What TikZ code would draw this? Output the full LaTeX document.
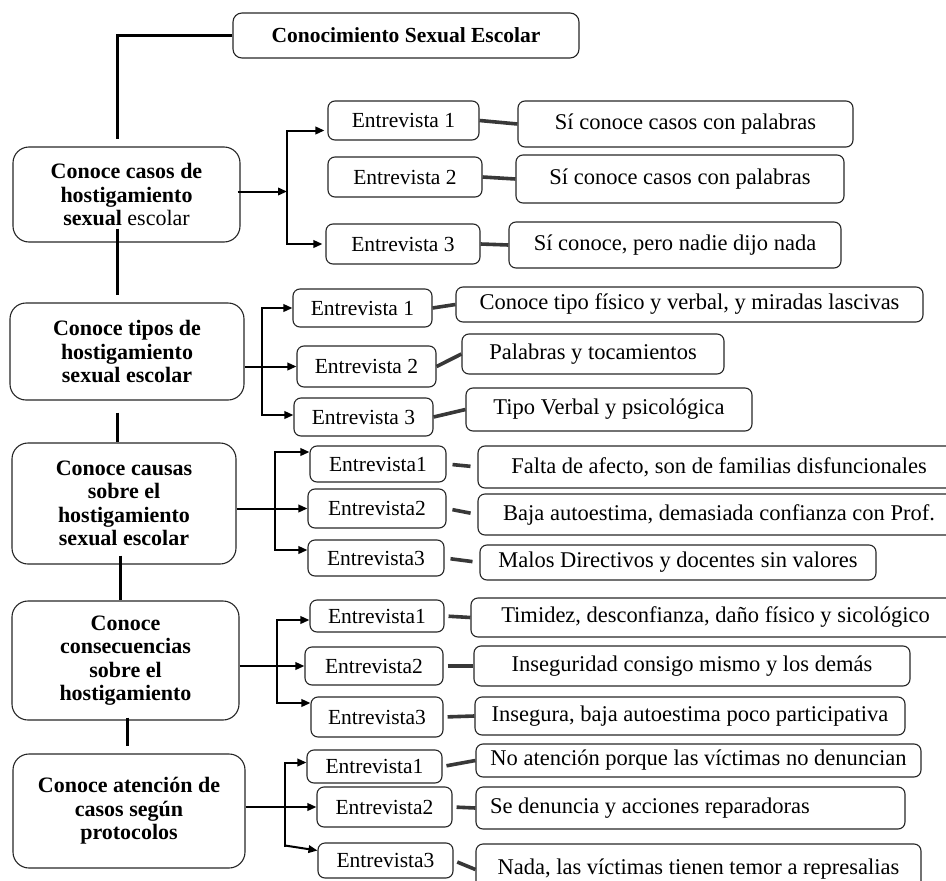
\documentclass[tikz,border=0pt]{standalone}
\usepackage{fontspec}
\setmainfont{Liberation Serif}
\usetikzlibrary{arrows.meta,calc}
\newcommand\pxbox[7]{%
  \node[#1, minimum width={(#4-#3)*1pt}, minimum height={(#6-#5)*1pt}] (#2) at ({(#3+#4)/2},{(#5+#6)/2}) {#7};}
\tikzset{
  box/.style={draw=black!85, line width=1.1pt, rounded corners=7pt, inner sep=0pt,
    align=center, font=\fontsize{21.5}{24}\selectfont},
  rbox/.style={box, font=\fontsize{22.5}{25}\selectfont},
  bigbox/.style={box, rounded corners=16pt, font=\bfseries\fontsize{22}{23.5}\selectfont},
  titlebox/.style={box, rounded corners=9pt, font=\bfseries\fontsize{21.5}{24}\selectfont},
  trunk/.style={line width=3pt, black},
  link/.style={line width=3.6pt, black!78},
  arr/.style={line width=2pt, black, -{Triangle[length=9pt,width=7.5pt]}}
}
\begin{document}
\begin{tikzpicture}[x=1pt,y=-1pt]
\useasboundingbox (0,0) rectangle (946,881);
\clip (0,0) rectangle (946,881);

% main boxes
\pxbox{titlebox}{top}{233}{579}{13}{58}{Conocimiento Sexual Escolar}
\pxbox{bigbox}{b1}{13}{240}{147}{242}{Conoce casos de\\hostigamiento\\sexual {\mdseries escolar}}
\pxbox{bigbox}{b2}{10}{244}{303}{400}{Conoce tipos de\\hostigamiento\\sexual escolar}
\pxbox{bigbox}{b3}{12}{236}{443}{564}{Conoce causas\\sobre el\\hostigamiento\\sexual escolar}
\pxbox{bigbox}{b4}{12}{239}{601}{720}{Conoce\\consecuencias\\sobre el\\hostigamiento}
\pxbox{bigbox}{b5}{13}{245}{754}{868}{Conoce atención de\\casos según\\protocolos}

% group 1
\pxbox{box}{e11}{328}{479}{101}{140}{Entrevista 1}
\pxbox{box}{e12}{328}{482}{157}{197}{Entrevista 2}
\pxbox{box}{e13}{326}{480}{224}{264}{Entrevista 3}
\pxbox{rbox}{r11}{518}{853}{101}{147}{Sí conoce casos con palabras}
\pxbox{rbox}{r12}{516}{844}{155}{203}{Sí conoce casos con palabras}
\pxbox{rbox}{r13}{509}{841}{222}{268}{Sí conoce, pero nadie dijo nada}

% group 2
\pxbox{box}{e21}{293}{432}{289}{327}{Entrevista 1}
\pxbox{box}{e22}{297}{436}{346}{387}{Entrevista 2}
\pxbox{box}{e23}{294}{433}{398}{436}{Entrevista 3}
\pxbox{rbox}{r21}{456}{923}{287}{322}{Conoce tipo físico y verbal, y miradas lascivas}
\pxbox{rbox}{r22}{462}{724}{334}{374}{Palabras y tocamientos}
\pxbox{rbox}{r23}{466}{752}{388}{431}{Tipo Verbal y psicológica}

% group 3
\pxbox{box}{e31}{310}{446}{446}{482}{Entrevista1}
\pxbox{box}{e32}{308}{446}{489}{528}{Entrevista2}
\pxbox{box}{e33}{308}{444}{540}{576}{Entrevista3}
\pxbox{rbox}{r31}{478}{960}{446}{488}{Falta de afecto, son de familias disfuncionales}
\pxbox{rbox}{r32}{478}{960}{494}{535}{Baja autoestima, demasiada confianza con Prof.}
\pxbox{rbox}{r33}{480}{876}{545}{580}{Malos Directivos y docentes sin valores}

% group 4
\pxbox{box}{e41}{310}{444}{600}{632}{Entrevista1}
\pxbox{box}{e42}{305}{443}{647}{685}{Entrevista2}
\pxbox{box}{e43}{311}{443}{697}{737}{Entrevista3}
\pxbox{rbox}{r41}{471}{960}{598}{637}{Timidez, desconfianza, daño físico y sicológico}
\pxbox{rbox}{r42}{474}{910}{646}{686}{Inseguridad consigo mismo y los demás}
\pxbox{rbox}{r43}{475}{905}{697}{735}{Insegura, baja autoestima poco participativa}

% group 5
\pxbox{box}{e51}{307}{442}{750}{783}{Entrevista1}
\pxbox{box}{e52}{317}{452}{787}{827}{Entrevista2}
\pxbox{box}{e53}{318}{453}{843}{878}{Entrevista3}
\pxbox{rbox}{r51}{476}{921}{744}{777}{No atención porque las víctimas no denuncian}
\pxbox{rbox}{r52}{476}{905}{787}{829}{\makebox[401pt][l]{Se denuncia y acciones reparadoras}}
\pxbox{rbox}{r53}{476}{921}{844}{895}{Nada, las víctimas tienen temor a represalias}

% trunk
\draw[trunk] (top.west) -| ($(b1.north)+(-9,-7)$);
\draw[trunk] ($(b1.south)+(-9,-14)$) coordinate (t1) -- ($(t1|-b2.north)+(0,-7)$);
\draw[trunk] ($(b2.south)+(-10,12)$) coordinate (t2) -- (t2|-b3.north);
\draw[trunk] ($(b3.south)+(-4,-9)$) coordinate (t3) -- (t3|-b4.north);
\draw[trunk] ($(b4.south)+(2,-3)$) coordinate (t4) -- ($(t4|-b5.north)+(0,-7)$);

% branches group 1
\coordinate (k1) at (287,0);
\draw[arr] ($(b1.east)+(-3,-3)$) -- ($(b1.east -| k1)+(0,-3)$);
\draw[arr, line cap=rect] ($(k1|-e13.west)+(0,0)$) |- ($(e11.west)+(-3,10)$);
\draw[arr] (k1|-e13.west) -- ($(e13.west)+(-3,0)$);
% branches group 2
\coordinate (k2) at (262,0);
\draw[arr] (b2.east|-e22.west) -- (e22.west);
\draw[arr, line cap=rect] ($(k2|-e23.west)+(0,-2)$) |- (e21.west);
\draw[arr] ($(k2|-e23.west)+(0,-2)$) -- ($(e23.west)+(0,-2)$);
% branches group 3
\coordinate (k3) at (275,0);
\draw[arr] (b3.east|-e32.west) -- (e32.west);
\draw[arr, line cap=rect] ($(k3|-e33.west)+(0,-8)$) |- ($(e31.west)+(0,-12)$);
\draw[arr] ($(k3|-e33.west)+(0,-8)$) -- ($(e33.west)+(0,-8)$);
% branches group 4
\coordinate (k4) at (277,0);
\draw[arr] (b4.east|-e42.west) -- (e42.west);
\draw[arr, line cap=rect] ($(k4|-e43.west)+(0,-14)$) |- ($(e41.west)+(0,4)$);
\draw[arr] ($(k4|-e43.west)+(0,-14)$) -- ($(e43.west)+(0,-14)$);
% branches group 5
\coordinate (k5) at (285,0);
\draw[arr] (b5.east|-e52.west) -- (e52.west);
\draw[arr, line cap=rect] ($(k5|-e53.west)+(0,-15)$) |- ($(e51.west)+(0,-4)$);
\draw[arr] ($(k5|-e53.west)+(0,-15)$) -- ($(e53.west)+(0,-10)$);

% links
\foreach \g in {1,2}{\foreach \i in {1,2,3}{\draw[link] (e\g\i.east) -- (r\g\i.west);}}
\foreach \i in {1,2,3}{\draw[link, shorten <=6pt, shorten >=7pt] (e3\i.east) -- (r3\i.west);}
\foreach \g in {4,5}{\foreach \i in {1,2,3}{\draw[link, shorten <=4pt] (e\g\i.east) -- (r\g\i.west);}}
\end{tikzpicture}
\end{document}
